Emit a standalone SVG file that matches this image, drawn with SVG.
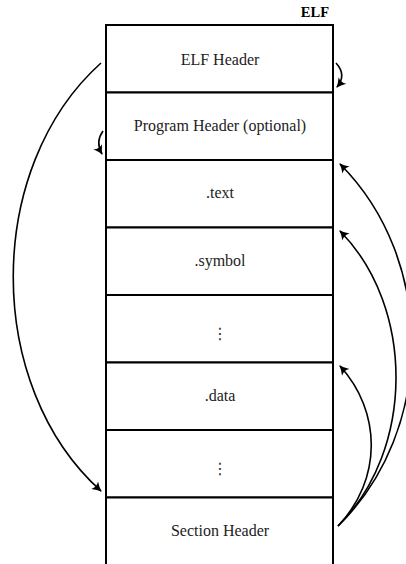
<svg xmlns="http://www.w3.org/2000/svg" width="406" height="564" viewBox="0 0 406 564">
  <defs>
    <style>
      .row { fill: #ffffff; stroke: #000000; stroke-width: 2; }
      .lbl { font-family: "Liberation Serif", "DejaVu Serif", serif; font-size: 16px; fill: #222222; text-anchor: middle; }
      .dots { font-family: "DejaVu Sans", sans-serif; font-size: 16px; fill: #333333; text-anchor: middle; }
      .title { font-family: "Liberation Serif", "DejaVu Serif", serif; font-size: 14.5px; font-weight: bold; fill: #000000; text-anchor: end; }
      .link { fill: none; stroke: #000000; stroke-width: 1.6; marker-end: url(#tip); }
    </style>
    <marker id="tip" markerUnits="userSpaceOnUse" markerWidth="20" markerHeight="20" refX="0" refY="0" orient="auto" overflow="visible">
      <path d="M1,0 Q-4,-1.6 -8.5,-5 Q-5.5,0 -8.5,5 Q-4,1.6 1,0 Z" fill="#000000"/>
    </marker>
  </defs>

  <rect width="406" height="564" fill="#ffffff"/>

  <text class="title" x="329" y="17">ELF</text>

  <g id="elf-header">
    <rect class="row" x="106" y="25" width="227" height="67.5"/>
    <text class="lbl" x="220" y="64.5">ELF Header</text>
  </g>
  <g id="program-header">
    <rect class="row" x="106" y="92.5" width="227" height="67.5"/>
    <text class="lbl" x="220" y="131">Program Header (optional)</text>
  </g>
  <g id="text-section">
    <rect class="row" x="106" y="160" width="227" height="67.5"/>
    <text class="lbl" x="220" y="198">.text</text>
  </g>
  <g id="symbol-section">
    <rect class="row" x="106" y="227.5" width="227" height="67.5"/>
    <text class="lbl" x="220" y="265.5">.symbol</text>
  </g>
  <g id="gap-1">
    <rect class="row" x="106" y="295" width="227" height="67.5"/>
    <text class="dots" x="220" y="339">⋮</text>
  </g>
  <g id="data-section">
    <rect class="row" x="106" y="362.5" width="227" height="67.5"/>
    <text class="lbl" x="220" y="400.5">.data</text>
  </g>
  <g id="gap-2">
    <rect class="row" x="106" y="430" width="227" height="67.5"/>
    <text class="dots" x="220" y="474">⋮</text>
  </g>
  <g id="section-header">
    <rect class="row" x="106" y="497.5" width="227" height="90"/>
    <text class="lbl" x="220" y="535.5">Section Header</text>
  </g>

  <g id="connectors">
    <!-- ELF header to section header table -->
    <path class="link" d="M101,63 C-16,168 -16,386 101,491"/>
    <!-- ELF header to program header -->
    <path class="link" d="M336,63 Q347,75 337,87"/>
    <path class="link" d="M103,131 Q95,142 102,154"/>
    <!-- section header entries back to the sections -->
    <path class="link" d="M338,526 C436,430 436,260 340,164"/>
    <path class="link" d="M338,526 C415,450 415,307 340,231"/>
    <path class="link" d="M338,526 C382,480 382,412 340,366"/>
  </g>
</svg>
